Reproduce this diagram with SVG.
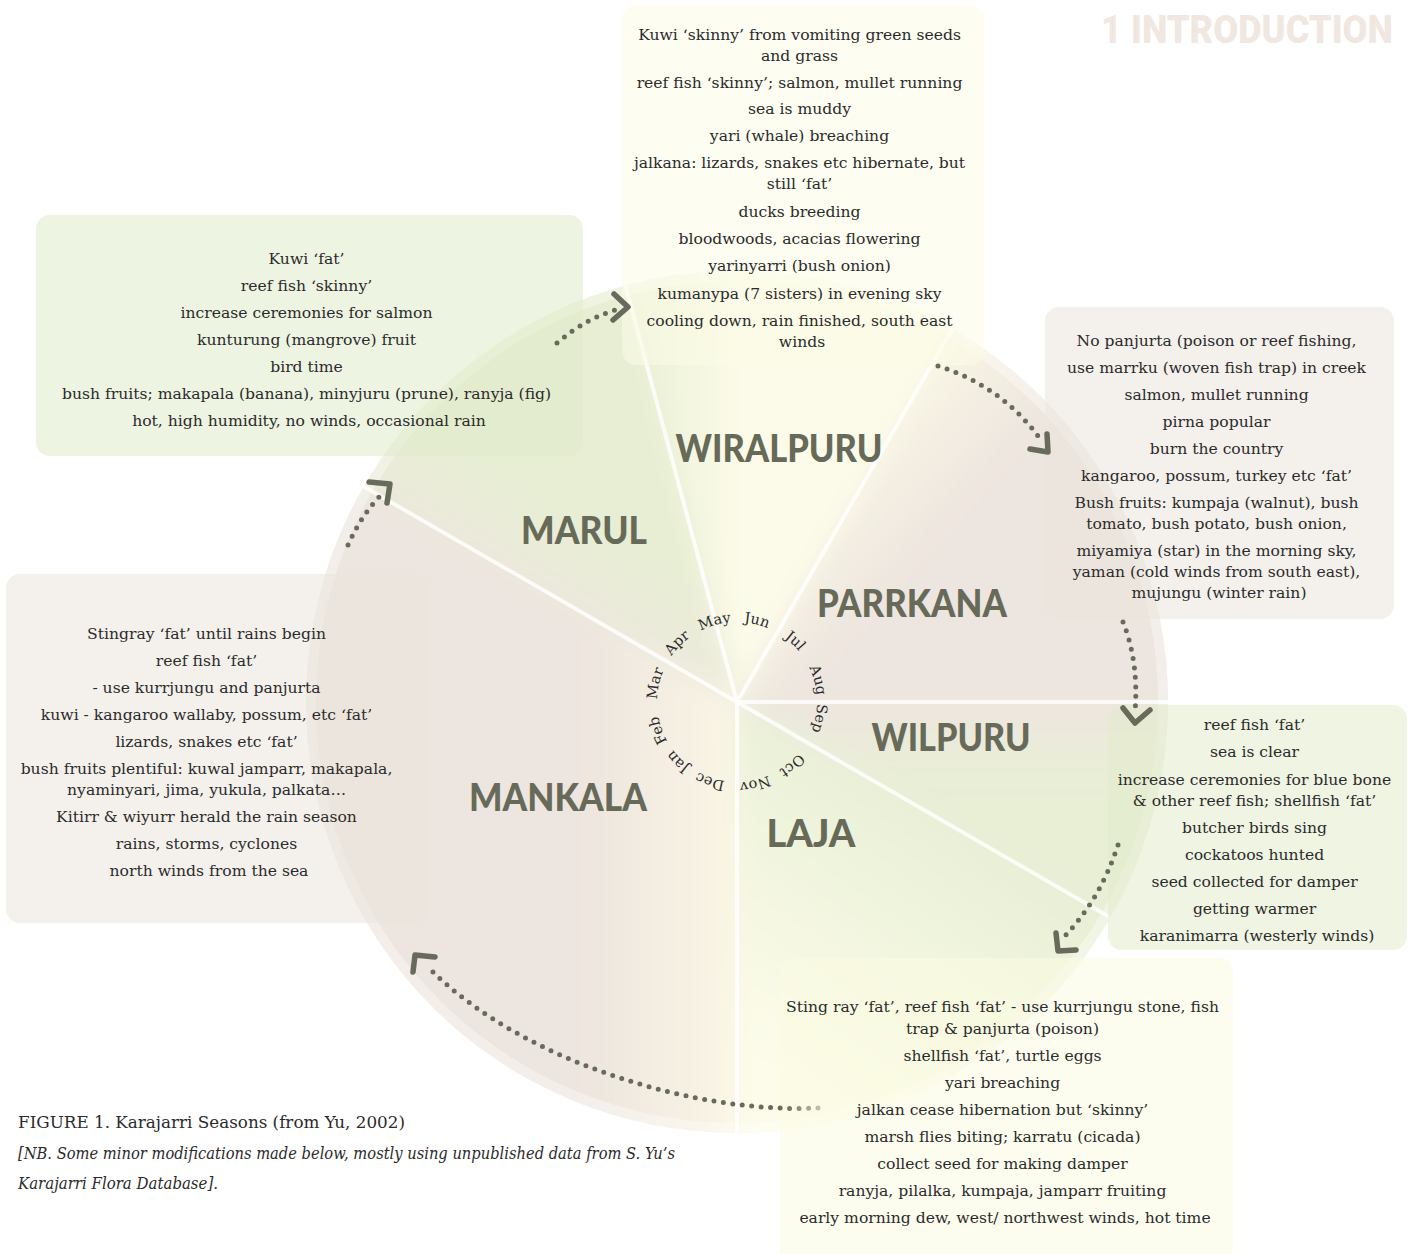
<svg xmlns="http://www.w3.org/2000/svg" width="1411" height="1254" viewBox="0 0 1411 1254">
<defs>
<style>
.body{font-family:"DejaVu Serif","Liberation Serif",serif;font-size:15.6px;fill:#2b2b2b;text-anchor:middle}
.season{font-family:Lato,"Open Sans",sans-serif;font-weight:900;font-size:38px;fill:#676a58;text-anchor:middle}
.month{font-family:"DejaVu Serif","Liberation Serif",serif;font-size:14.5px;fill:#2b2b2b;text-anchor:middle}
.dots{fill:none;stroke:#686b5b;stroke-width:5;stroke-linecap:round;stroke-dasharray:0 9.5}
.head{fill:none;stroke:#686b5b;stroke-width:5.5;stroke-linecap:round;stroke-linejoin:round}
.sep{stroke:#ffffff;stroke-width:4;stroke-opacity:0.8}
.box{opacity:0.55}
</style>
<clipPath id="circ"><circle cx="737" cy="702" r="431"/></clipPath>
<filter id="soft" x="-20%" y="-20%" width="140%" height="140%"><feGaussianBlur stdDeviation="12"/></filter>
<linearGradient id="gMankala" gradientUnits="userSpaceOnUse" x1="585" y1="0" x2="737" y2="0"><stop offset="0" stop-color="#ede5df"/><stop offset="1" stop-color="#fbf6e5"/></linearGradient>
<linearGradient id="gLaja" gradientUnits="userSpaceOnUse" x1="790" y1="1080" x2="960" y2="830"><stop offset="0" stop-color="#fdfcea"/><stop offset="1" stop-color="#e9f0d7"/></linearGradient>
<linearGradient id="gWilpuru" gradientUnits="userSpaceOnUse" x1="0" y1="700" x2="0" y2="790"><stop offset="0" stop-color="#ede6df"/><stop offset="1" stop-color="#e8efd5"/></linearGradient>
<linearGradient id="gParrkana" gradientUnits="userSpaceOnUse" x1="850" y1="470" x2="935" y2="545"><stop offset="0" stop-color="#f8f4e4"/><stop offset="1" stop-color="#ede5df"/></linearGradient>
<linearGradient id="gWiralpuru" gradientUnits="userSpaceOnUse" x1="650" y1="0" x2="745" y2="0"><stop offset="0" stop-color="#edf2da"/><stop offset="1" stop-color="#fcfbe9"/></linearGradient>
<linearGradient id="gMarul" gradientUnits="userSpaceOnUse" x1="560" y1="610" x2="610" y2="520"><stop offset="0" stop-color="#ece9dc"/><stop offset="1" stop-color="#e7eed3"/></linearGradient>
<linearGradient id="fade" gradientUnits="userSpaceOnUse" x1="785" y1="0" x2="818" y2="0"><stop offset="0" stop-color="#686b5b"/><stop offset="1" stop-color="#bdbfb2"/></linearGradient>
<path id="monthring" d="M817,702 A80,80 0 1 1 657,702 A80,80 0 1 1 817,702"/>
</defs>

<rect x="0" y="0" width="1411" height="1254" fill="#ffffff"/>

<g id="title">
<text transform="translate(1101,43) scale(1,1.1)" x="0" y="0" textLength="292" lengthAdjust="spacingAndGlyphs" style="font-family:Roboto,'Liberation Sans',sans-serif;font-weight:900;font-size:36px;fill:#f0e7e1">1 INTRODUCTION</text>
</g>

<g id="wheel">
<g clip-path="url(#circ)">
<g filter="url(#soft)">
<path d="M737,702 L312.6,457 A490,490 0 0 1 610.2,228.7 Z" fill="url(#gMarul)"/>
<path d="M737,702 L610.2,228.7 A490,490 0 0 1 982,277.6 Z" fill="url(#gWiralpuru)"/>
<path d="M737,702 L982,277.6 A490,490 0 0 1 1227,702 Z" fill="url(#gParrkana)"/>
<path d="M737,702 L1227,702 A490,490 0 0 1 1161.4,947 Z" fill="url(#gWilpuru)"/>
<path d="M737,702 L1161.4,947 A490,490 0 0 1 737,1192 Z" fill="url(#gLaja)"/>
<path d="M737,702 L737,1192 A490,490 0 0 1 312.6,457 Z" fill="url(#gMankala)"/>
</g>
</g>
<circle cx="737" cy="702" r="426" fill="none" stroke="#ffffff" stroke-opacity="0.35" stroke-width="10"/>
<line class="sep" x1="737" y1="702" x2="363.7" y2="486.5"/>
<line class="sep" x1="737" y1="702" x2="625.5" y2="285.7"/>
<line class="sep" x1="737" y1="702" x2="952.5" y2="328.7"/>
<line class="sep" x1="737" y1="702" x2="1168" y2="702"/>
<line class="sep" x1="737" y1="702" x2="1110.3" y2="917.5"/>
<line class="sep" x1="737" y1="702" x2="737" y2="1133"/>
<g id="months" class="month">
<text><textPath href="#monthring" startOffset="15.8">Sep</textPath></text>
<text><textPath href="#monthring" startOffset="68.4">Oct</textPath></text>
<text><textPath href="#monthring" startOffset="107.9">Nov</textPath></text>
<text><textPath href="#monthring" startOffset="151.8">Dec</textPath></text>
<text><textPath href="#monthring" startOffset="187.8">Jan</textPath></text>
<text><textPath href="#monthring" startOffset="223.4">Feb</textPath></text>
<text><textPath href="#monthring" startOffset="268.8">Mar</textPath></text>
<text><textPath href="#monthring" startOffset="313.1">Apr</textPath></text>
<text><textPath href="#monthring" startOffset="354.5">May</textPath></text>
<text><textPath href="#monthring" startOffset="395.7">Jun</textPath></text>
<text><textPath href="#monthring" startOffset="437.2">Jul</textPath></text>
<text><textPath href="#monthring" startOffset="480.7">Aug</textPath></text>
</g>
</g>

<g id="marul">
<rect class="box" x="36" y="215" width="547" height="241" rx="14" fill="#e0ebca"/>
<text class="body">
<tspan x="309" y="264">Kuwi ‘fat’</tspan>
<tspan x="309" y="291">reef fish ‘skinny’</tspan>
<tspan x="309" y="318">increase ceremonies for salmon</tspan>
<tspan x="309" y="345">kunturung (mangrove) fruit</tspan>
<tspan x="309" y="372">bird time</tspan>
<tspan x="309" y="399">bush fruits; makapala (banana), minyjuru (prune), ranyja (fig)</tspan>
<tspan x="309" y="426">hot, high humidity, no winds, occasional rain</tspan>
</text>
<text class="season" x="584" y="544" textLength="126" lengthAdjust="spacingAndGlyphs">MARUL</text>
</g>

<g id="wiralpuru">
<rect class="box" x="622" y="5" width="362" height="360" rx="14" fill="#fbfbe6"/>
<text class="body">
<tspan x="802" y="40">Kuwi ‘skinny’ from vomiting green seeds</tspan>
<tspan x="802" y="61">and grass</tspan>
<tspan x="802" y="88">reef fish ‘skinny’; salmon, mullet running</tspan>
<tspan x="802" y="114">sea is muddy</tspan>
<tspan x="802" y="141">yari (whale) breaching</tspan>
<tspan x="802" y="168">jalkana: lizards, snakes etc hibernate, but</tspan>
<tspan x="802" y="189">still ‘fat’</tspan>
<tspan x="802" y="217">ducks breeding</tspan>
<tspan x="802" y="244">bloodwoods, acacias flowering</tspan>
<tspan x="802" y="271">yarinyarri (bush onion)</tspan>
<tspan x="802" y="299">kumanypa (7 sisters) in evening sky</tspan>
<tspan x="802" y="326">cooling down, rain finished, south east</tspan>
<tspan x="802" y="347">winds</tspan>
</text>
<text class="season" x="779" y="462" textLength="207" lengthAdjust="spacingAndGlyphs">WIRALPURU</text>
</g>

<g id="parrkana">
<rect class="box" x="1045" y="307" width="349" height="312" rx="14" fill="#ebe6dc"/>
<text class="body">
<tspan x="1219" y="346">No panjurta (poison or reef fishing,</tspan>
<tspan x="1219" y="373">use marrku (woven fish trap) in creek</tspan>
<tspan x="1219" y="400">salmon, mullet running</tspan>
<tspan x="1219" y="427">pirna popular</tspan>
<tspan x="1219" y="454">burn the country</tspan>
<tspan x="1219" y="481">kangaroo, possum, turkey etc ‘fat’</tspan>
<tspan x="1219" y="508">Bush fruits: kumpaja (walnut), bush</tspan>
<tspan x="1219" y="529">tomato, bush potato, bush onion,</tspan>
<tspan x="1219" y="556">miyamiya (star) in the morning sky,</tspan>
<tspan x="1219" y="577">yaman (cold winds from south east),</tspan>
<tspan x="1219" y="598">mujungu (winter rain)</tspan>
</text>
<text class="season" x="912" y="617" textLength="190" lengthAdjust="spacingAndGlyphs">PARRKANA</text>
</g>

<g id="wilpuru">
<rect class="box" x="1108" y="705" width="299" height="245" rx="14" fill="#e2ebcc"/>
<text class="body">
<tspan x="1257" y="730">reef fish ‘fat’</tspan>
<tspan x="1257" y="757">sea is clear</tspan>
<tspan x="1257" y="785">increase ceremonies for blue bone</tspan>
<tspan x="1257" y="806">&amp; other reef fish; shellfish ‘fat’</tspan>
<tspan x="1257" y="833">butcher birds sing</tspan>
<tspan x="1257" y="860">cockatoos hunted</tspan>
<tspan x="1257" y="887">seed collected for damper</tspan>
<tspan x="1257" y="914">getting warmer</tspan>
<tspan x="1257" y="941">karanimarra (westerly winds)</tspan>
</text>
<text class="season" x="951" y="751" textLength="159" lengthAdjust="spacingAndGlyphs">WILPURU</text>
</g>

<g id="laja">
<rect class="box" x="780" y="958" width="453" height="310" rx="14" fill="#fbfbe2"/>
<text class="body">
<tspan x="1005" y="1012">Sting ray ‘fat’, reef fish ‘fat’ - use kurrjungu stone, fish</tspan>
<tspan x="1005" y="1034">trap &amp; panjurta (poison)</tspan>
<tspan x="1005" y="1061">shellfish ‘fat’, turtle eggs</tspan>
<tspan x="1005" y="1088">yari breaching</tspan>
<tspan x="1005" y="1115">jalkan cease hibernation but ‘skinny’</tspan>
<tspan x="1005" y="1142">marsh flies biting; karratu (cicada)</tspan>
<tspan x="1005" y="1169">collect seed for making damper</tspan>
<tspan x="1005" y="1196">ranyja, pilalka, kumpaja, jamparr fruiting</tspan>
<tspan x="1005" y="1223">early morning dew, west/ northwest winds, hot time</tspan>
</text>
<text class="season" x="811" y="847" textLength="89" lengthAdjust="spacingAndGlyphs">LAJA</text>
</g>

<g id="mankala">
<rect class="box" x="6" y="574" width="424" height="349" rx="14" fill="#ebe6dc"/>
<text class="body">
<tspan x="209" y="639">Stingray ‘fat’ until rains begin</tspan>
<tspan x="209" y="666">reef fish ‘fat’</tspan>
<tspan x="209" y="693">- use kurrjungu and panjurta</tspan>
<tspan x="209" y="720">kuwi - kangaroo wallaby, possum, etc ‘fat’</tspan>
<tspan x="209" y="747">lizards, snakes etc ‘fat’</tspan>
<tspan x="209" y="774">bush fruits plentiful: kuwal jamparr, makapala,</tspan>
<tspan x="209" y="795">nyaminyari, jima, yukula, palkata…</tspan>
<tspan x="209" y="822">Kitirr &amp; wiyurr herald the rain season</tspan>
<tspan x="209" y="849">rains, storms, cyclones</tspan>
<tspan x="209" y="876">north winds from the sea</tspan>
</text>
<text class="season" x="558" y="811" textLength="178" lengthAdjust="spacingAndGlyphs">MANKALA</text>
</g>

<g id="connectors">
<path class="dots" d="M557,343 Q586,318 619,309"/>
<path class="head" d="M614,294 L628,307 L613,320"/>
<path class="dots" d="M938,366 Q1002,386 1041,440"/>
<path class="head" d="M1030,449 L1048,452 L1047,434"/>
<path class="dots" d="M1123,622 Q1139,662 1135,712"/>
<path class="head" d="M1123,708 L1135,723 L1150,710"/>
<path class="dots" d="M1118,845 Q1100,900 1063,938"/>
<path class="head" d="M1056,933 L1058,951 L1076,950"/>
<path class="dots" d="M818,1108 C700,1114 525,1064 430,969" style="stroke:url(#fade)"/>
<path class="head" d="M413,972 L415,955 L435,957"/>
<path class="dots" d="M348,545 Q362,514 382,494"/>
<path class="head" d="M369,482 L390,484 L387,503"/>
</g>

<g id="caption" style="font-family:'DejaVu Serif','Liberation Serif',serif;fill:#2b2b2b">
<text x="18" y="1128" font-size="17" textLength="387" lengthAdjust="spacingAndGlyphs">FIGURE 1. Karajarri Seasons (from Yu, 2002)</text>
<text x="18" y="1159" font-size="16" font-style="italic" textLength="657" lengthAdjust="spacingAndGlyphs">[NB. Some minor modifications made below, mostly using unpublished data from S. Yu’s</text>
<text x="18" y="1189" font-size="16" font-style="italic" textLength="200" lengthAdjust="spacingAndGlyphs">Karajarri Flora Database].</text>
</g>
</svg>
